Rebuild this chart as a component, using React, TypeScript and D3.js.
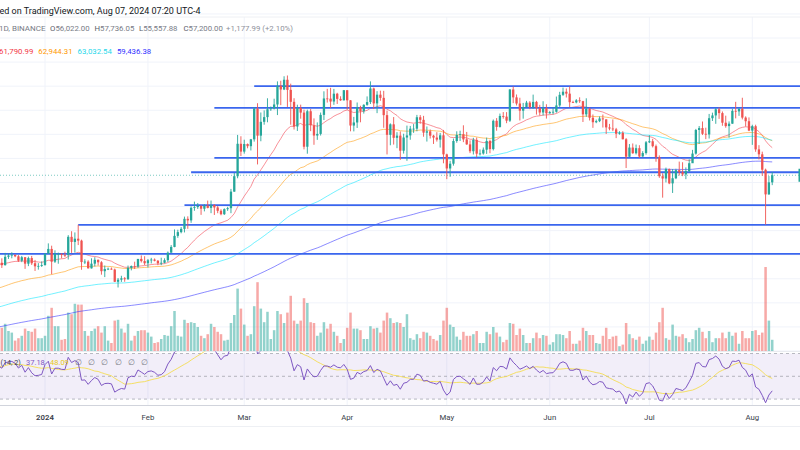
import React, { useMemo } from "react";
import * as d3 from "d3";

const W = 800;
const H = 450;

// ---- data (BINANCE BTCUSDT, 1D) ----
const startDate = "2023-12-18";
const firstOpen = 41375;

const closes = [
  // Dec
  42657, 42260, 43650, 43860, 43990, 43730, 43010, 43580, 42510, 43440, 42580, 42070, 42140, 42280,
  // Jan
  44180, 44960, 42840, 44150, 44160, 43970, 43930, 46970, 46120, 46660, 46340, 42780, 42850, 41730, 42510, 43150,
  42740, 41260, 41620, 41670, 41540, 39500, 39850, 40080, 39930, 41820, 42120, 42030, 43300, 42940, 42580,
  // Feb
  43080, 43190, 42990, 42580, 42660, 43090, 44340, 45290, 47130, 47750, 48290, 49960, 49700, 51800, 51910, 52120,
  51640, 52140, 51780, 52260, 51850, 51300, 50730, 51570, 51730, 54480, 57040, 62430, 61130,
  // Mar
  62390, 62030, 63170, 68270, 63780, 66080, 66860, 68170, 68300, 68960, 72060, 71450, 73070, 71390, 69400, 65300,
  68390, 67610, 61940, 67840, 65500, 63800, 64070, 67230, 69960, 69930, 69450, 70750, 69890, 69650, 71330,
  // Apr
  69650, 65460, 65970, 68510, 67840, 68900, 69360, 71620, 69140, 70590, 70060, 67190, 63920, 65660, 63420, 63790,
  61280, 63470, 63820, 64940, 64940, 66840, 66410, 64280, 64500, 63770, 63460, 63120, 63840, 60670,
  // May
  58330, 59120, 62890, 63890, 64030, 63160, 62330, 61190, 63070, 60790, 60820, 61450, 62900, 61550, 66250, 65230,
  67050, 66940, 66270, 71450, 70140, 69120, 67930, 68530, 69270, 68520, 69390, 68370, 67630, 68350, 67490,
  // Jun
  67700, 67750, 68800, 70560, 71080, 70760, 69340, 69310, 69650, 69510, 67320, 68240, 66760, 66010, 66190, 66640,
  66490, 65150, 64960, 64830, 64100, 64250, 63180, 60280, 61800, 60860, 61700, 60320, 60890, 62680,
  // Jul
  62850, 62030, 60200, 57040, 56660, 58230, 55850, 56700, 58050, 57720, 57340, 57890, 59200, 60800, 64720, 65040,
  64090, 63980, 66680, 67140, 68160, 67530, 65930, 65370, 65770, 67900, 67810, 68250, 66780, 66180, 64620,
  // Aug
  65350, 61500, 60680, 58120, 54020, 56022, 57200,
];

const highs = [
  42756, 43400, 44300, 44240, 44400, 44000, 43940, 43800, 43600, 43680, 43800, 43130, 42600, 42890,
  44190, 45880, 45500, 44730, 44350, 44200, 44500, 47250, 47900, 47700, 48970, 46500, 43250, 43080, 43400, 43580,
  43200, 42930, 42200, 41870, 41880, 41690, 40130, 40500, 40280, 42200, 42200, 42840, 43300, 43880, 43750,
  43290, 43480, 43380, 43120, 43500, 43400, 44530, 45600, 48200, 48150, 48590, 50330, 50370, 52040, 52820, 52580,
  52200, 52400, 52990, 53000, 52380, 52080, 51550, 51700, 51950, 54930, 57580, 63900, 63680,
  63110, 62480, 63230, 68500, 69170, 67630, 67980, 69990, 68620, 69920, 72800, 72900, 73650, 73777, 72420, 70000,
  68920, 68930, 68100, 68100, 68200, 66650, 65980, 67620, 71150, 71560, 71730, 71550, 70900, 70320, 71370,
  71350, 69690, 66900, 69290, 68750, 69000, 70300, 72800, 71760, 71170, 71250, 71230, 67930, 65820, 66870, 64360,
  64480, 64100, 65450, 65400, 65700, 67230, 67200, 67070, 65300, 64800, 63920, 64360, 64230, 64730,
  60780, 59600, 63300, 64500, 64600, 65500, 64400, 62990, 63420, 63470, 61490, 61820, 63450, 63100, 66460, 66700,
  67450, 67700, 67690, 71520, 71950, 70620, 70080, 69220, 69560, 69510, 70600, 69560, 68900, 69500, 69000,
  67860, 68440, 70280, 71060, 71760, 71620, 71950, 69580, 69850, 70150, 69560, 69990, 68450, 67300, 66450, 66980,
  67290, 66490, 65730, 66480, 65070, 64520, 64520, 63370, 62390, 62480, 62300, 62190, 61200, 62890,
  63860, 63250, 62300, 60500, 57530, 58470, 58320, 58240, 58280, 59470, 59360, 58500, 59850, 61420, 64900, 65380,
  66130, 65100, 67390, 67600, 68370, 68480, 67800, 67100, 66150, 68240, 69400, 68320, 70080, 66990, 66810,
  65590, 65600, 62200, 61120, 58300, 57070, 57736,
];

const lows = [
  40530, 41800, 42200, 43300, 43400, 43580, 42800, 42760, 41650, 42100, 42300, 41300, 41520, 41970,
  42180, 44150, 40750, 42630, 42500, 43400, 43600, 43200, 44300, 44350, 45600, 41500, 42440, 41720, 41700, 42050,
  42200, 40680, 40280, 41450, 41500, 39450, 38555, 39480, 39500, 39820, 41400, 41620, 41800, 42700, 42280,
  41880, 42550, 42890, 42260, 42260, 42570, 42790, 44330, 45240, 46800, 47550, 47700, 48300, 49300, 51300, 51600,
  50620, 51200, 51700, 50900, 50600, 50900, 50550, 50600, 51280, 50900, 54450, 56700, 60400,
  60790, 61680, 61320, 62790, 59000, 62850, 65600, 66000, 67900, 68130, 67200, 68850, 71350, 68550, 65600, 64800,
  64560, 66600, 61500, 60780, 64530, 62260, 63080, 63800, 66380, 69280, 68380, 68900, 69050, 69560, 69620,
  68100, 64500, 64490, 65060, 66000, 67450, 68750, 69040, 68200, 67520, 69570, 65090, 60660, 62180, 62300, 61700,
  59770, 60800, 59600, 63100, 64250, 64500, 65750, 63600, 62800, 63300, 62400, 62800, 61800, 59190,
  56550, 56940, 58800, 62600, 62900, 62700, 62250, 60880, 60650, 60180, 60490, 60630, 60750, 60860, 61320, 64600,
  65120, 66600, 65850, 66060, 69180, 68800, 66300, 66600, 68500, 68180, 68230, 67280, 67120, 67130, 66620,
  67440, 67310, 67600, 68560, 70380, 70120, 68500, 69200, 69150, 69230, 66050, 66900, 66300, 65080, 65850, 66030,
  65130, 64060, 64670, 64530, 63370, 63940, 63170, 58400, 60260, 60770, 60650, 60070, 60280, 60630,
  62550, 61820, 59450, 56770, 53480, 56010, 55720, 54260, 56550, 57160, 57050, 56550, 57740, 59250, 60630, 62400,
  63880, 63200, 63300, 66220, 65750, 66570, 65420, 65100, 63450, 65750, 66650, 67070, 66480, 65300, 64530,
  62250, 61100, 59830, 57120, 49000, 53960, 55558,
];

// daily volume (thousand BTC)
const volumes = [
  28, 29, 34, 25, 23, 13, 16, 19, 28, 25, 24, 28, 16, 16,
  19, 44, 54, 31, 31, 14, 15, 48, 46, 59, 58, 58, 25, 19, 25, 28,
  31, 23, 31, 13, 10, 38, 39, 28, 23, 34, 13, 19, 25, 26, 26,
  23, 18, 10, 11, 15, 20, 19, 31, 50, 19, 18, 39, 35, 36, 35, 30,
  19, 16, 21, 34, 30, 24, 21, 13, 14, 35, 45, 78, 53,
  33, 19, 21, 56, 86, 53, 36, 49, 15, 26, 50, 46, 35, 48, 69, 38,
  34, 38, 66, 60, 36, 35, 19, 23, 36, 28, 34, 24, 19, 10, 15,
  29, 48, 28, 28, 26, 15, 15, 31, 28, 29, 23, 38, 48, 41, 35, 36,
  35, 30, 46, 16, 14, 21, 16, 24, 23, 19, 15, 13, 20, 38,
  54, 33, 30, 18, 14, 24, 19, 19, 21, 25, 10, 10, 24, 21, 30, 23,
  18, 11, 14, 35, 34, 20, 28, 20, 10, 10, 16, 23, 16, 20, 19,
  8, 11, 21, 21, 20, 16, 25, 9, 9, 13, 29, 25, 20, 20, 10, 9,
  19, 29, 15, 18, 19, 6, 8, 35, 21, 16, 14, 18, 9, 13,
  18, 14, 23, 36, 54, 16, 14, 33, 19, 18, 21, 16, 11, 15, 26, 29,
  24, 16, 25, 11, 16, 16, 23, 16, 24, 19, 23, 9, 25, 16, 16,
  25, 26, 20, 23, 105, 38, 14,
];

// moving averages: periods, their values at the first visible day, colours, legend
const emaPeriods = [20, 50, 100, 200];
const emaStartValues = [42450, 38470, 35310, 31990];
const emaColors = ["#f23645", "#ff9800", "#00e5ff", "#2b2bff"];
const emaLegendValues = ["61,790.99", "62,944.31", "63,032.54", "59,436.38"];
const emaLegendColors = ["#f23645", "#ff9800", "#1fd8ea", "#3030ff"];

// horizontal levels drawn on the chart
const levelPrices = [72000, 68400, 60100, 57700, 52250, 48950, 44150];
const levelStartDates = ["2024-03-04", "2024-02-21", "2024-02-21", "2024-02-14", "2024-02-12", "2024-01-11", "2023-12-01"];

const monthLabels = ["2024", "Feb", "Mar", "Apr", "May", "Jun", "Jul", "Aug"];

const headerTitle = "ed on TradingView.com, Aug 07, 2024 07:20 UTC-4";
const symbolText = "1D, BINANCE";
const ohlcLetters = ["O", "H", "L", "C"];
const ohlcValues = ["56,022.00", "57,736.05", "55,557.88", "57,200.00"];
const changeText = "+1,177.99 (+2.10%)";
const rsiLegend = ["(14, 2)", "37.18", "48.09"];

const rsiSeedGain = 520;
const rsiSeedLoss = 360;

const UP = "#26a69a";
const DOWN = "#ef5350";
const FONT = "Roboto, 'Noto Sans', sans-serif";

export default function App() {
  const d = useMemo(() => {
    const t0 = new Date(startDate + "T00:00:00Z");
    const rows = closes.map((c, i) => ({
      date: d3.utcDay.offset(t0, i),
      open: i === 0 ? firstOpen : closes[i - 1],
      high: highs[i],
      low: lows[i],
      close: c,
      volume: volumes[i],
    }));
    const emas = emaPeriods.map((p, k) => {
      const a = 2 / (p + 1);
      let prev = emaStartValues[k];
      return closes.map((c, i) => {
        if (i > 0) prev = c * a + prev * (1 - a);
        return prev;
      });
    });
    let g = rsiSeedGain;
    let l = rsiSeedLoss;
    const rsi = closes.map((c, i) => {
      if (i > 0) {
        const ch = c - closes[i - 1];
        g = (g * 13 + Math.max(ch, 0)) / 14;
        l = (l * 13 + Math.max(-ch, 0)) / 14;
      }
      return 100 - 100 / (1 + g / l);
    });
    const rsiMa = rsi.map((_, i) => d3.mean(rsi.slice(Math.max(0, i - 13), i + 1)) as number);
    return { rows, emas, rsi, rsiMa };
  }, []);

  const x = d3
    .scaleUtc()
    .domain([new Date("2024-01-01T00:00:00Z"), new Date("2024-08-01T00:00:00Z")])
    .range([45, 752.3]);
  const y = d3.scaleLinear().domain([28000, 86320]).range([351, 0]);
  const yVol = d3.scaleLinear().domain([0, d3.max(volumes) as number]).range([351, 267]);
  const yRsi = d3.scaleLinear().domain([30, 70]).range([399.1, 353.5]);

  const priceGrid = d3.range(28000, 86000, 4000);
  const months = d3.utcMonth.range(new Date("2024-01-01T00:00:00Z"), new Date("2024-08-02T00:00:00Z"));

  const bodyW = 2.3;

  const emaLine = (vals: number[]) =>
    d3
      .line<number>()
      .x((_, i) => x(d.rows[i].date))
      .y((v) => y(v))(vals) as string;

  const rsiLine = (vals: number[]) =>
    d3
      .line<number>()
      .x((_, i) => x(d.rows[i].date))
      .y((v) => yRsi(v))(vals) as string;

  const lastClose = closes[closes.length - 1];

  return (
    <svg
      width={W}
      height={H}
      viewBox={`0 0 ${W} ${H}`}
      style={{ position: "absolute", left: 0, top: 0, display: "block", background: "#fff" }}
      fontFamily={FONT}
    >
      <defs>
        <clipPath id="mainClip">
          <rect x={0} y={17} width={W} height={334} />
        </clipPath>
        <clipPath id="rsiClip">
          <rect x={0} y={351.5} width={W} height={54} />
        </clipPath>
      </defs>

      {/* grid */}
      {priceGrid.map((p) => (
        <line key={"hg" + p} x1={0} x2={W} y1={y(p)} y2={y(p)} stroke="#f0f3fa" strokeWidth={1} />
      ))}
      {months.map((m) => (
        <line key={"vg" + m.getTime()} x1={x(m)} x2={x(m)} y1={17} y2={405.5} stroke="#f0f3fa" strokeWidth={1} />
      ))}
      <line x1={0} x2={W} y1={17} y2={17} stroke="#eef0f4" strokeWidth={1} />

      {/* volume */}
      <g clipPath="url(#mainClip)">
        {d.rows.map((r, i) => (
          <rect
            key={"v" + i}
            x={x(r.date) - bodyW / 2 - 0.1}
            y={yVol(r.volume)}
            width={bodyW + 0.2}
            height={351 - yVol(r.volume)}
            fill={r.close >= r.open ? "rgba(38,166,154,0.5)" : "rgba(239,83,80,0.5)"}
          />
        ))}
      </g>

      {/* moving averages */}
      <g clipPath="url(#mainClip)" fill="none">
        {d.emas.map((vals, k) => (
          <path key={"ema" + k} d={emaLine(vals)} stroke={emaColors[k]} strokeOpacity={0.55} strokeWidth={1} />
        ))}
      </g>

      {/* levels */}
      {levelPrices.map((p, k) => (
        <line
          key={"lvl" + k}
          x1={Math.max(0, x(new Date(levelStartDates[k] + "T00:00:00Z")))}
          x2={W}
          y1={y(p)}
          y2={y(p)}
          stroke="#3a66ee"
          strokeWidth={1.8}
        />
      ))}

      {/* last price line */}
      <line x1={0} x2={W} y1={y(lastClose)} y2={y(lastClose)} stroke={UP} strokeOpacity={0.6} strokeWidth={1} strokeDasharray="1,2" />
      <rect x={798.5} y={y(lastClose) - 6.5} width={2} height={13} fill={UP} />

      {/* candles */}
      <g clipPath="url(#mainClip)">
        {d.rows.map((r, i) => {
          const cx = x(r.date);
          const col = r.close >= r.open ? UP : DOWN;
          const yo = y(r.open);
          const yc = y(r.close);
          return (
            <g key={"c" + i}>
              <line x1={cx} x2={cx} y1={y(r.high)} y2={y(r.low)} stroke={col} strokeWidth={0.9} />
              <rect x={cx - bodyW / 2} y={Math.min(yo, yc)} width={bodyW} height={Math.max(0.8, Math.abs(yo - yc))} fill={col} />
            </g>
          );
        })}
      </g>

      {/* RSI pane */}
      <line x1={0} x2={W} y1={351.5} y2={351.5} stroke="#e9ebf0" strokeWidth={1} />
      <rect x={0} y={yRsi(70)} width={W} height={yRsi(30) - yRsi(70)} fill="rgba(126,87,194,0.1)" />
      {[70, 50, 30].map((v) => (
        <line key={"rb" + v} x1={0} x2={W} y1={yRsi(v)} y2={yRsi(v)} stroke="#787b86" strokeOpacity={0.5} strokeWidth={1} strokeDasharray="3,3" />
      ))}
      <g clipPath="url(#rsiClip)" fill="none">
        <path d={rsiLine(d.rsiMa)} stroke="#f5dc4a" strokeOpacity={0.85} strokeWidth={1} />
        <path d={rsiLine(d.rsi)} stroke="#7e57c2" strokeWidth={1} />
      </g>
      <line x1={0} x2={W} y1={405.5} y2={405.5} stroke="#d1d4dc" strokeWidth={1} />
      <line x1={0} x2={W} y1={426.5} y2={426.5} stroke="#eef0f4" strokeWidth={1} />

      {/* time axis */}
      {months.map((m, i) => (
        <text
          key={"ml" + i}
          x={x(m)}
          y={419.5}
          textAnchor="middle"
          fontSize={7.8}
          fontWeight={i === 0 ? 600 : 400}
          fill="#3a3e4a"
        >
          {monthLabels[i]}
        </text>
      ))}

      {/* header texts */}
      <text x={-0.5} y={13.5} fontSize={9} fill="#131722">{headerTitle}</text>
      <text x={-1} y={31} fontSize={8} fill="#787b86">{symbolText}</text>
      {ohlcLetters.map((L, k) => (
        <text key={"ohlc" + k} x={50 + k * 44.5} y={31} fontSize={7.8} fill="#787b86">
          <tspan fill="#5d606b">{L}</tspan>
          {ohlcValues[k]}
        </text>
      ))}
      <text x={226} y={31} fontSize={7.8} fill="#8e919b">{changeText}</text>
      {emaLegendValues.map((v, k) => (
        <text key={"el" + k} x={-1 + k * 39.3} y={54} fontSize={7.8} fill={emaLegendColors[k]}>
          {v}
        </text>
      ))}

      {/* RSI legend */}
      <text x={0.5} y={364.5} fontSize={7.2} fill="#3a3e4a">{rsiLegend[0]}</text>
      <text x={26} y={364.5} fontSize={7.5} fill="#7e57c2">{rsiLegend[1]}</text>
      <text x={50} y={364.5} fontSize={7.5} fill="#e8c820">{rsiLegend[2]}</text>
      {d3.range(6).map((k) => (
        <text key={"na" + k} x={75 + k * 13.2} y={364.5} fontSize={7.5} fill="#787b86">∅</text>
      ))}
    </svg>
  );
}
